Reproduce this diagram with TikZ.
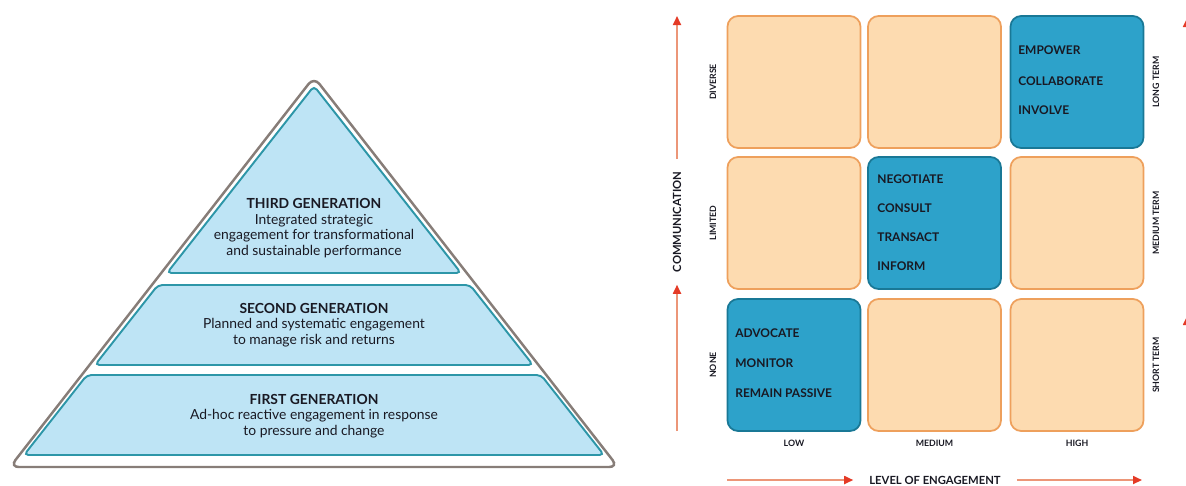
\documentclass[tikz,border=0pt]{standalone}
\usepackage{fontspec}
\setmainfont{Lato}
\usepackage{xcolor}
\usetikzlibrary{arrows.meta, positioning}

\definecolor{bandfill}{RGB}{190,228,245}
\definecolor{bandedge}{RGB}{45,150,168}
\definecolor{outline}{RGB}{135,125,120}
\definecolor{peach}{RGB}{253,219,176}
\definecolor{peachedge}{RGB}{238,160,92}
\definecolor{hotblue}{RGB}{45,162,202}
\definecolor{hotedge}{RGB}{25,120,150}
\definecolor{axisline}{RGB}{236,150,120}
\definecolor{axisred}{RGB}{228,58,38}
\definecolor{ink}{RGB}{25,25,35}

\tikzset{
	band/.style={draw=bandedge, fill=bandfill, line width=1.1pt, rounded corners=2.5pt},
	cell/.style={draw=peachedge, fill=peach, line width=1pt, rounded corners=6pt, minimum width=2.66cm, minimum height=2.64cm, inner sep=0pt},
	hot/.style={cell, draw=hotedge, fill=hotblue},
	gen/.style={align=center, font=\fontsize{7.9}{8.9}\selectfont, text=ink},
	act/.style={anchor=west, font=\fontsize{6.8}{7}\selectfont\bfseries, text=ink, inner sep=0pt},
	tag/.style={font=\fontsize{5}{6}\selectfont\bfseries, text=ink, inner sep=1pt},
	axistext/.style={font=\fontsize{6.4}{7}\selectfont\bfseries, text=ink},
	axis/.style={draw=axisline, line width=1pt, -{Triangle[length=0.18cm, width=0.16cm, color=axisred]}}
}

\begin{document}
\begin{tikzpicture}[x=0.02cm, y=-0.02cm]
	\useasboundingbox (0, 0) rectangle (1186, 485);

	% pyramid
	\draw [outline, line width=1.4pt, rounded corners=5pt] (10, 467) -- (314, 77) -- (618, 467) -- cycle;
	\draw [band] (24, 455) -- (87, 375) -- (541, 375) -- (604, 455) -- cycle;
	\draw [band] (95, 365) -- (158, 285) -- (470, 285) -- (533, 365) -- cycle;
	\draw [band] (167, 273) -- (314, 86) -- (461, 273) -- cycle;
	\node [gen] (third) at (314, 228) {\textbf{THIRD GENERATION}\\Integrated strategic\\engagement for transformational\\and sustainable performance};
	\node [gen] (second) at (314, 325) {\textbf{SECOND GENERATION}\\Planned and systematic engagement\\to manage risk and returns};
	\node [gen] (first) at (314, 416) {\textbf{FIRST GENERATION}\\Ad-hoc reactive engagement in response\\to pressure and change};

	% grid, rows from top
	\node [cell] (c11) at (794, 82) {};
	\node [cell] (c12) at (934.5, 82) {};
	\node [hot]  (c13) at (1077, 82) {};
	\node [cell] (c21) at (794, 223) {};
	\node [hot]  (c22) at (934.5, 223) {};
	\node [cell] (c23) at (1077, 223) {};
	\node [hot]  (c31) at (794, 365) {};
	\node [cell] (c32) at (934.5, 365) {};
	\node [cell] (c33) at (1077, 365) {};

	\node [act] (empower) at (1018, 50) {EMPOWER};
	\node [act] (collab) at (1018, 81) {COLLABORATE};
	\node [act] (involve) at (1018, 110) {INVOLVE};
	\node [act] (negotiate) at (877, 179) {NEGOTIATE};
	\node [act] (consult) at (877, 208) {CONSULT};
	\node [act] (transact) at (877, 237) {TRANSACT};
	\node [act] (inform) at (877, 266) {INFORM};
	\node [act] (advocate) at (735, 333) {ADVOCATE};
	\node [act] (monitor) at (735, 363) {MONITOR};
	\node [act] (passive) at (735, 393) {REMAIN PASSIVE};

	% row and column tags
	\node [tag, rotate=90] (diverse) at (713, 82) {DIVERSE};
	\node [tag, rotate=90] (limited) at (713, 223) {LIMITED};
	\node [tag, rotate=90] (none) at (713, 365) {NONE};
	\node [tag, rotate=90] (longterm) at (1156, 82) {LONG TERM};
	\node [tag, rotate=90] (medterm) at (1156, 223) {MEDIUM TERM};
	\node [tag, rotate=90] (shortterm) at (1156, 365) {SHORT TERM};
	\node [tag] (low) at (794, 443) {LOW};
	\node [tag] (medium) at (934.5, 443) {MEDIUM};
	\node [tag] (high) at (1077, 443) {HIGH};

	% axes
	\node [axistext, rotate=90, inner sep=7pt] (comm) at (677, 222) {COMMUNICATION};
	\coordinate (commtop) at (677, 16);
	\coordinate (commlow) at (677, 431);
	\draw [axis] (comm.east) -- (commtop);
	\draw [axis] (commlow) -- (comm.west);
	\node [axistext, inner sep=9pt] (level) at (935, 480) {LEVEL OF ENGAGEMENT};
	\coordinate (levelstart) at (727, 480);
	\coordinate (levelend) at (1142, 480);
	\draw [axis] (levelstart) -- (level.west);
	\draw [axis] (level.east) -- (levelend);
	\coordinate (rtop) at (1187, 18);
	\coordinate (rtopstart) at (1187, 140);
	\coordinate (rlow) at (1187, 316);
	\coordinate (rlowstart) at (1187, 431);
	\draw [axis] (rtopstart) -- (rtop);
	\draw [axis] (rlowstart) -- (rlow);
\end{tikzpicture}
\end{document}
